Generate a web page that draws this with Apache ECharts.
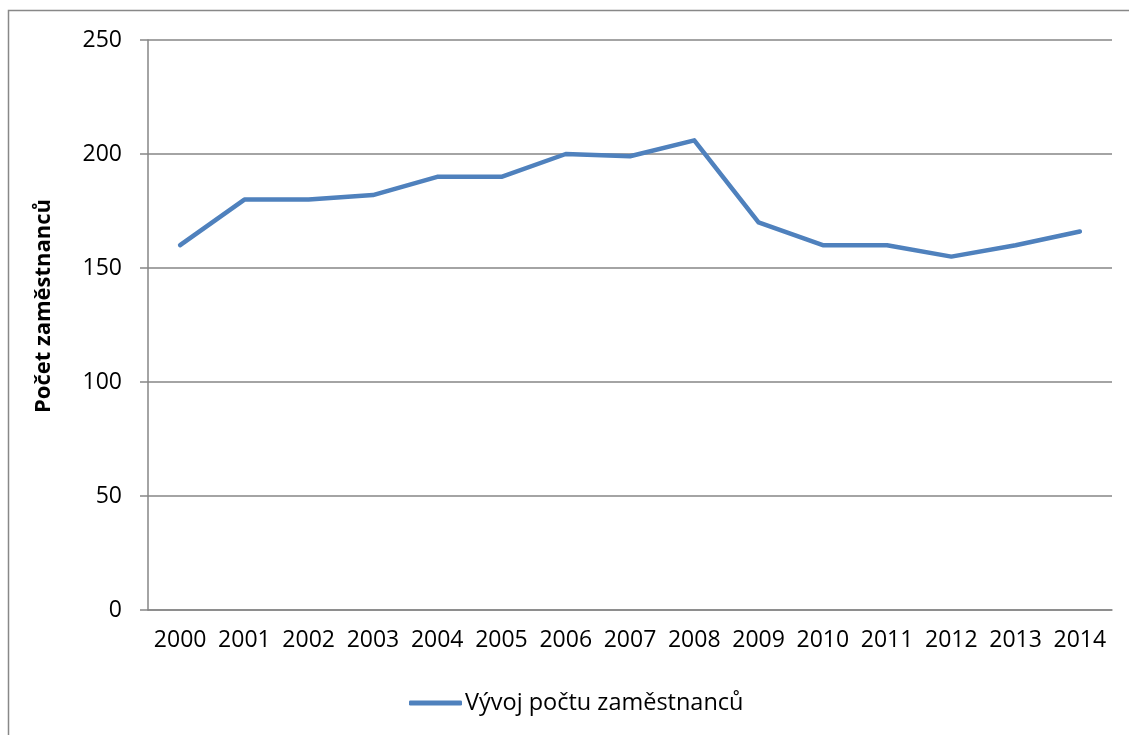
<!DOCTYPE html>
<html>
<head>
<meta charset="utf-8">
<script src="https://cdn.jsdelivr.net/npm/echarts@6/dist/echarts.min.js"></script>
<style>
html, body { margin: 0; padding: 0; background: #fff; }
#chart { width: 1129px; height: 735px; }
</style>
</head>
<body>
<div id="chart"></div>
<script>
const years = ['2000', '2001', '2002', '2003', '2004', '2005', '2006', '2007', '2008', '2009', '2010', '2011', '2012', '2013', '2014']
const employees = [160, 180, 180, 182, 190, 190, 200, 199, 206, 170, 160, 160, 155, 160, 166]
const seriesName = 'Vývoj počtu zaměstnanců'
const axisName = 'Počet zaměstnanců'

const font = 'Open Sans, Calibri, sans-serif'
const chart = echarts.init(document.getElementById('chart'))
chart.setOption({
    animation: false,
    textStyle: { fontFamily: font },
    graphic: [{
        type: 'rect',
        shape: { x: 8.5, y: 10.5, width: 1130, height: 740 },
        style: { fill: 'none', stroke: '#888', lineWidth: 1.5 },
        silent: true
    }],
    grid: { left: 148, right: 17, top: 40, bottom: 125 },
    legend: {
        top: 686,
        left: 404,
        data: [seriesName],
        itemWidth: 53,
        itemHeight: 5,
        itemGap: 3,
        icon: 'roundRect',
        textStyle: { fontSize: 23.5, color: '#000', fontFamily: font, padding: [0, 0, 0, -2] }
    },
    xAxis: {
        type: 'category',
        data: years,
        boundaryGap: true,
        axisLine: { lineStyle: { color: '#868686', width: 1.5 } },
        axisTick: { length: 8, lineStyle: { color: '#868686', width: 1.5 }, interval: 0 },
        axisLabel: { fontSize: 23, color: '#000', margin: 19, interval: 0 }
    },
    yAxis: {
        type: 'value',
        min: 0,
        max: 250,
        interval: 50,
        name: axisName,
        nameLocation: 'middle',
        nameGap: 93,
        nameTextStyle: { fontSize: 22, fontWeight: 'bold', color: '#000', fontFamily: font, padding: [0, 0, 0, 38] },
        axisLine: { show: true, lineStyle: { color: '#868686', width: 1.5 } },
        axisTick: { show: true, length: 8, lineStyle: { color: '#868686', width: 1.5 } },
        axisLabel: { fontSize: 23, color: '#000', margin: 26 },
        splitLine: { lineStyle: { color: '#868686', width: 1.5 } }
    },
    series: [{
        name: seriesName,
        type: 'line',
        data: employees,
        symbol: 'none',
        lineStyle: { color: '#4F81BD', width: 4.5, cap: 'round', join: 'round' },
        itemStyle: { color: '#4F81BD' }
    }]
})
</script>
</body>
</html>
